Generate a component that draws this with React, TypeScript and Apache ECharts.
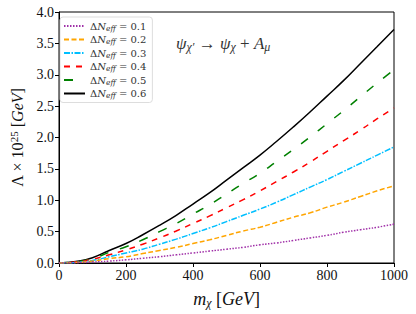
import React, { useEffect, useRef } from "react";
import * as echarts from "echarts";

const masses = [0, 50, 100, 150, 200, 250, 300, 350, 400, 450, 500, 550, 600, 650, 700, 750, 800, 850, 900, 950, 1000];
const dN01 = [0, 0.004, 0.015, 0.03, 0.05, 0.075, 0.1, 0.13, 0.16, 0.19, 0.22, 0.25, 0.29, 0.32, 0.36, 0.4, 0.44, 0.49, 0.53, 0.57, 0.62];
const dN02 = [0, 0.008, 0.03, 0.07, 0.1, 0.15, 0.2, 0.25, 0.31, 0.37, 0.44, 0.51, 0.57, 0.65, 0.73, 0.8, 0.89, 0.97, 1.06, 1.15, 1.23];
const dN03 = [0, 0.01, 0.04, 0.1, 0.16, 0.22, 0.3, 0.38, 0.47, 0.56, 0.66, 0.76, 0.86, 0.97, 1.09, 1.21, 1.33, 1.46, 1.59, 1.72, 1.85];
const dN04 = [0, 0.015, 0.06, 0.13, 0.21, 0.3, 0.4, 0.51, 0.63, 0.75, 0.88, 1.01, 1.15, 1.3, 1.45, 1.61, 1.78, 1.95, 2.12, 2.3, 2.47];
const dN05 = [0, 0.02, 0.07, 0.17, 0.26, 0.37, 0.5, 0.63, 0.78, 0.93, 1.1, 1.27, 1.43, 1.62, 1.81, 2.01, 2.22, 2.43, 2.65, 2.87, 3.08];
const dN06 = [0, 0.025, 0.085, 0.2, 0.31, 0.45, 0.6, 0.76, 0.94, 1.12, 1.32, 1.52, 1.72, 1.94, 2.17, 2.41, 2.66, 2.91, 3.18, 3.45, 3.72];
const labels = ["0.1", "0.2", "0.3", "0.4", "0.5", "0.6"];
const seriesValues = [dN01, dN02, dN03, dN04, dN05, dN06];
const colors = ["#a030a8", "#ffa500", "#00bfff", "#ff0000", "#008000", "#000000"];
const dashes: any[] = [[1.5, 1.5], [5, 2.5], [6, 1.5, 1.5, 1.5], [6, 6], [9, 12], "solid"];
const yTicks = [0, 0.5, 1, 1.5, 2, 2.5, 3, 3.5, 4];
const xTicks = [0, 200, 400, 600, 800, 1000];

const FONT = "Liberation Serif";
const LFONT = "DejaVu Serif";
const TXT = "#111";

export default function App() {
  const ref = useRef<HTMLDivElement>(null);
  useEffect(() => {
    if (!ref.current) return;
    const chart = echarts.init(ref.current, undefined, { renderer: "svg" });
    const series = seriesValues.map((vals, i) => ({
      name: "ΔN_eff = " + labels[i],
      type: "line",
      showSymbol: false,
      symbol: "none",
      smooth: true,
      data: masses.map((m, j) => [m, vals[j]]),
      lineStyle: { color: colors[i], width: 1.5, type: dashes[i] },
      itemStyle: { color: colors[i] },
      z: 10 - i,
    }));
    chart.setOption({
      animation: false,
      backgroundColor: "#fff",
      textStyle: { fontFamily: FONT },
      grid: { left: 55, right: 22, top: 12, bottom: 50, show: true, borderColor: "#000", borderWidth: 1, backgroundColor: "transparent" },
      title: {
        text: "{i|ψ}{s|χ′}{n| → }{i|ψ}{s|χ}{n| + }{i|A}{s|μ}",
        left: 171,
        top: 29,
        textStyle: {
          fontFamily: FONT,
          fontWeight: "normal",
          rich: {
            i: { fontFamily: FONT, fontStyle: "italic", fontWeight: "normal", fontSize: 17, color: "#333" },
            n: { fontFamily: FONT, fontWeight: "normal", fontSize: 17, color: "#333" },
            s: { fontFamily: FONT, fontStyle: "italic", fontWeight: "normal", fontSize: 12, color: "#333", padding: [7, 0, 0, 0] },
          },
        },
      },
      legend: {
        orient: "vertical",
        left: 60,
        top: 17,
        padding: [3, 6, 3, 3],
        itemWidth: 21,
        itemHeight: 9,
        itemGap: 1.5,
        backgroundColor: "#fff",
        borderColor: "#dddddd",
        borderWidth: 1,
        borderRadius: 3,
        itemStyle: { opacity: 0, color: "rgba(0,0,0,0)", borderWidth: 0 },
        formatter: (name: string) => {
          const v = name.split("= ")[1];
          return "{a|Δ}{i|N}{s|eff}{a| = " + v + "}";
        },
        textStyle: {
          lineHeight: 9,
          rich: {
            a: { fontFamily: LFONT, fontSize: 10, color: "#333", lineHeight: 9 },
            i: { fontFamily: LFONT, fontSize: 10, fontStyle: "italic", color: "#333", lineHeight: 9 },
            s: { fontFamily: LFONT, fontSize: 7.5, fontStyle: "italic", color: "#333", lineHeight: 9, padding: [4, 0, 0, 0] },
          },
        },
        data: series.map((s) => s.name),
      },
      xAxis: {
        type: "value",
        min: 0,
        max: 1000,
        interval: 200,
        name: "{i|m}{s|χ}{n| [}{i|GeV}{n|]}",
        nameLocation: "middle",
        nameGap: 26,
        nameTextStyle: {
          rich: {
            i: { fontFamily: FONT, fontSize: 18, fontStyle: "italic", color: TXT },
            n: { fontFamily: FONT, fontSize: 18, color: TXT },
            s: { fontFamily: FONT, fontSize: 12, fontStyle: "italic", color: TXT, padding: [8, 0, 0, 0] },
          },
        },
        axisLine: { lineStyle: { color: "#000", width: 1 } },
        axisTick: { show: true, inside: false, length: 4, lineStyle: { color: "#000" } },
        axisLabel: { fontFamily: FONT, fontSize: 14, color: TXT, margin: 5, formatter: (v: number) => (xTicks.includes(v) ? String(v) : "") },
        splitLine: { show: false },
      },
      yAxis: {
        type: "value",
        min: 0,
        max: 4,
        interval: 0.5,
        name: "{n|Λ × 10}{sup|25}{n| [}{i|GeV}{n|]}",
        nameLocation: "middle",
        nameRotate: 90,
        nameGap: 32,
        nameTextStyle: {
          rich: {
            i: { fontFamily: FONT, fontSize: 16, fontStyle: "italic", color: TXT },
            n: { fontFamily: FONT, fontSize: 16, color: TXT },
            sup: { fontFamily: FONT, fontSize: 11, color: TXT, padding: [0, 0, 8, 0] },
          },
        },
        axisLine: { show: true, lineStyle: { color: "#000", width: 1 } },
        axisTick: { show: true, inside: false, length: 4, lineStyle: { color: "#000" } },
        axisLabel: { fontFamily: FONT, fontSize: 14, color: TXT, margin: 5, formatter: (v: number) => (yTicks.includes(v) ? v.toFixed(1) : "") },
        splitLine: { show: false },
      },
      series,
    });
    return () => chart.dispose();
  }, []);
  return <div ref={ref} style={{ position: "absolute", left: 0, top: 0, width: 416, height: 314 }} />;
}
